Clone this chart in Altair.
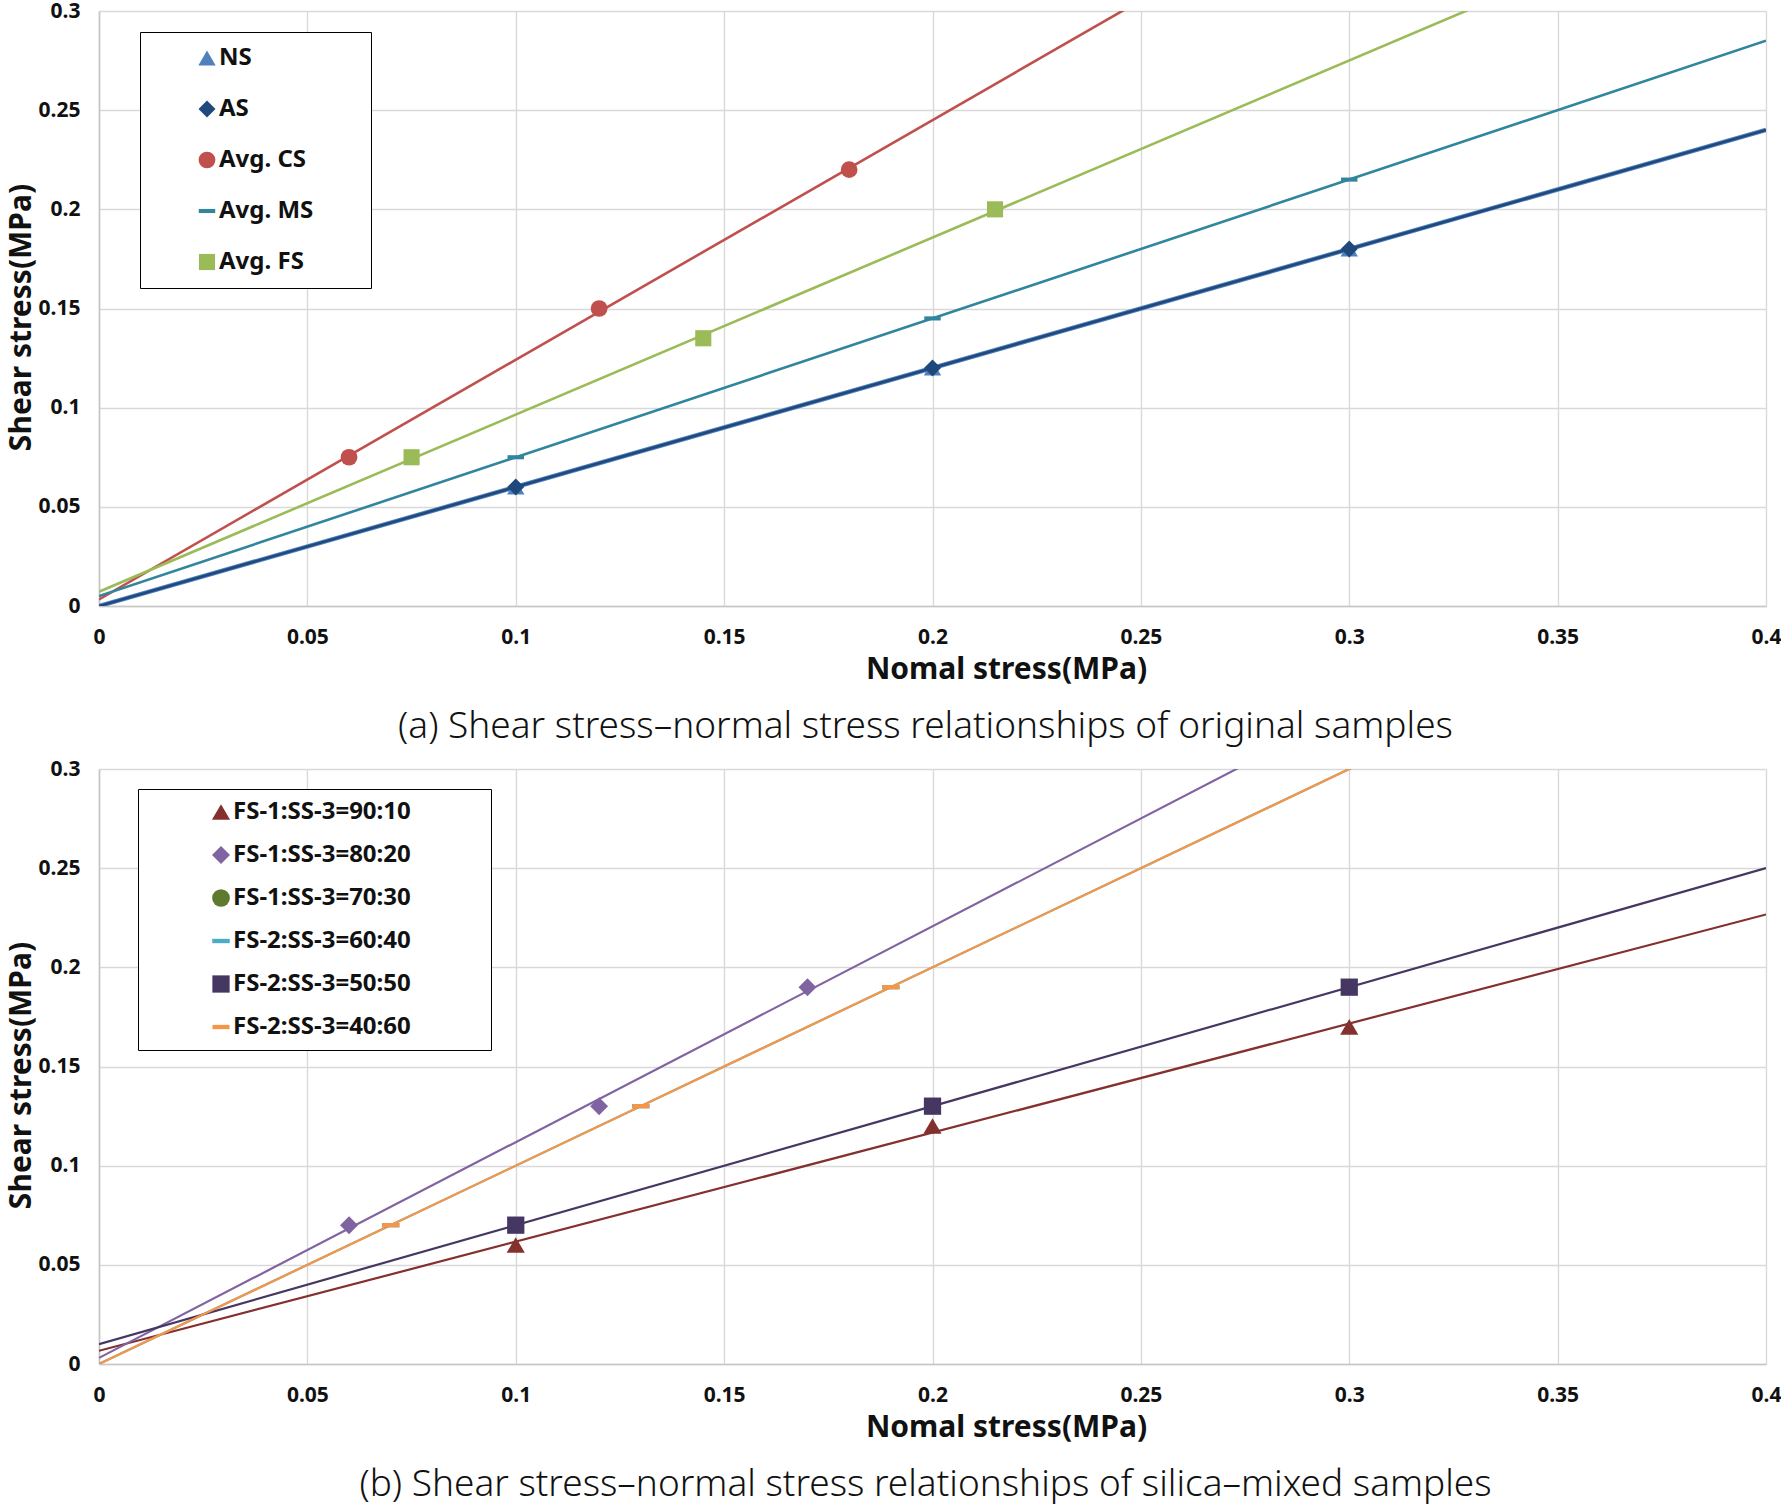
import altair as alt
import pandas as pd

# ---------- (a) original samples ----------
A_SERIES = ["NS", "AS", "Avg. CS", "Avg. MS", "Avg. FS"]
A_COLORS = ["#4F81BD", "#1F497D", "#C0504D", "#31859C", "#9BBB59"]

NS_X = [0.1, 0.2, 0.3]
NS_Y = [0.06, 0.12, 0.18]
AS_X = [0.1, 0.2, 0.3]
AS_Y = [0.06, 0.12, 0.18]
CS_X = [0.06, 0.12, 0.18]
CS_Y = [0.075, 0.15, 0.22]
MS_X = [0.1, 0.2, 0.3]
MS_Y = [0.075, 0.145, 0.215]
FS_X = [0.075, 0.145, 0.215]
FS_Y = [0.075, 0.135, 0.2]

# ---------- (b) silica-mixed samples ----------
B_SERIES = ["FS-1:SS-3=90:10", "FS-1:SS-3=80:20", "FS-1:SS-3=70:30",
            "FS-2:SS-3=60:40", "FS-2:SS-3=50:50", "FS-2:SS-3=40:60"]
B_COLORS = ["#84302E", "#8064A2", "#5E7A2E", "#4BACC6", "#453762", "#F79646"]

M9010_X = [0.1, 0.2, 0.3]
M9010_Y = [0.06, 0.12, 0.17]
M8020_X = [0.06, 0.12, 0.17]
M8020_Y = [0.07, 0.13, 0.19]
M7030_X = []
M7030_Y = []
M6040_X = [0.07, 0.13, 0.19]
M6040_Y = [0.07, 0.13, 0.19]
M5050_X = [0.1, 0.2, 0.3]
M5050_Y = [0.07, 0.13, 0.19]
M4060_X = [0.07, 0.13, 0.19]
M4060_Y = [0.07, 0.13, 0.19]

X_TICKS = [0, 0.05, 0.1, 0.15, 0.2, 0.25, 0.3, 0.35, 0.4]
Y_TICKS = [0, 0.05, 0.1, 0.15, 0.2, 0.25, 0.3]

CAPTION_A = "(a) Shear stress\u2013normal stress relationships of original samples"
CAPTION_B = "(b) Shear stress\u2013normal stress relationships of silica\u2013mixed samples"

# short horizontal bar used as the "dash" marker
DASH = "M-1,-0.25L1,-0.25L1,0.25L-1,0.25Z"

A_SHAPES = ["triangle-up", "diamond", "circle", DASH, "square"]
A_SIZES = [300, 260, 250, 140, 330]
A_WIDTHS = [4.5, 2.6, 2.6, 2.6, 2.6]

B_SHAPES = ["triangle-up", "diamond", "circle", DASH, "square", DASH]
B_SIZES = [330, 290, 220, 130, 370, 55]
B_WIDTHS = [2.2, 2.2, 2.2, 2.2, 2.2, 2.2]

FONT = "Noto Sans"


def frame(names, xs_list, ys_list):
    rows = []
    for name, xs, ys in zip(names, xs_list, ys_list):
        for x, y in zip(xs, ys):
            rows.append({"series": name, "x": x, "y": y})
    return pd.DataFrame(rows, columns=["series", "x", "y"])


df_a = frame(A_SERIES, [NS_X, AS_X, CS_X, MS_X, FS_X], [NS_Y, AS_Y, CS_Y, MS_Y, FS_Y])
df_b = frame(B_SERIES,
             [M9010_X, M8020_X, M7030_X, M6040_X, M5050_X, M4060_X],
             [M9010_Y, M8020_Y, M7030_Y, M6040_Y, M5050_Y, M4060_Y])


def panel(df, series, colors, shapes, sizes, widths, legend, caption):
    x_enc = alt.X(
        "x:Q",
        scale=alt.Scale(domain=[0, 0.4], nice=False),
        axis=alt.Axis(values=X_TICKS, format=".2~f", title="Nomal stress(MPa)",
                      labelFlush=False, labelPadding=20,
                      titleX=907, titleY=72, titleBaseline="alphabetic",
                      titleAlign="center"),
    )
    y_enc = alt.Y(
        "y:Q",
        scale=alt.Scale(domain=[0, 0.3], nice=False),
        axis=alt.Axis(values=Y_TICKS, format=".2~f", title="Shear stress(MPa)",
                      labelPadding=19, titleX=-69, titleY=306, titleAngle=270,
                      titleBaseline="alphabetic", titleAlign="center"),
    )

    # one fitted linear trend line per series, drawn in series order
    trend_layers = []
    for name, col, w in zip(series, colors, widths):
        if df[df["series"] == name].empty:
            continue
        trend_layers.append(
            alt.Chart(df).transform_filter(
                alt.datum.series == name
            ).transform_regression(
                "x", "y", extent=[0, 0.4]
            ).mark_line(clip=True, color=col, strokeWidth=w).encode(x=x_enc, y=y_enc)
        )

    points = alt.Chart(df).mark_point(filled=True, opacity=1, strokeWidth=0).encode(
        x=x_enc,
        y=y_enc,
        color=alt.Color("series:N", scale=alt.Scale(domain=series, range=colors),
                        legend=legend),
        shape=alt.Shape("series:N", scale=alt.Scale(domain=series, range=shapes),
                        legend=legend),
        size=alt.Size("series:N", scale=alt.Scale(domain=series, range=sizes),
                      legend=legend),
    )

    return alt.layer(*trend_layers, points).properties(
        width=1667,
        height=595,
        title=alt.TitleParams(caption, orient="bottom", anchor="middle",
                              frame="group", font=FONT, fontSize=37, dx=-7,
                              fontWeight=300, color="#111111", offset=25),
    )


def legend(x, y, pad, row_pad, sym_off, gap):
    # blank run after each label widens the framed box to the right;
    # the zero-width space keeps the run from being trimmed away
    tail = "\u00a0" * gap + "\u200b"
    return alt.Legend(
        orient="none", legendX=x, legendY=y, title=None,
        strokeColor="#000000", fillColor="#FFFFFF", padding=pad,
        rowPadding=row_pad, symbolOffset=sym_off, labelOffset=0,
        labelFont=FONT, labelFontWeight="bold", labelFontSize=24,
        labelColor="#111111", labelLimit=800, symbolStrokeWidth=0,
        symbolOpacity=1,
        labelExpr="datum.label + '" + tail + "'",
    )


chart_a = panel(df_a, A_SERIES, A_COLORS, A_SHAPES, A_SIZES, A_WIDTHS,
                legend(41, 21, 14, 27, 41, 7), CAPTION_A)
chart_b = panel(df_b, B_SERIES, B_COLORS, B_SHAPES, B_SIZES, B_WIDTHS,
                legend(39, 20, 11, 19, 60, 11), CAPTION_B)

chart = alt.vconcat(chart_a, chart_b, spacing=13).resolve_scale(
    color="independent", shape="independent", size="independent",
).properties(
    padding={"left": 6, "top": 0, "right": 0, "bottom": 6},
    background="white",
).configure_view(stroke=None).configure_axis(
    grid=True, gridColor="#D9D9D9", gridWidth=1.4,
    domainColor="#C6C6C6", domainWidth=1.6,
    ticks=False, tickSize=0,
    labelFont=FONT, labelFontWeight="bold", labelFontSize=21, labelColor="#111111",
    titleFont=FONT, titleFontWeight="bold", titleFontSize=30, titleColor="#111111",
)

chart.save("out.html", embed_options={"renderer": "svg", "actions": False})
